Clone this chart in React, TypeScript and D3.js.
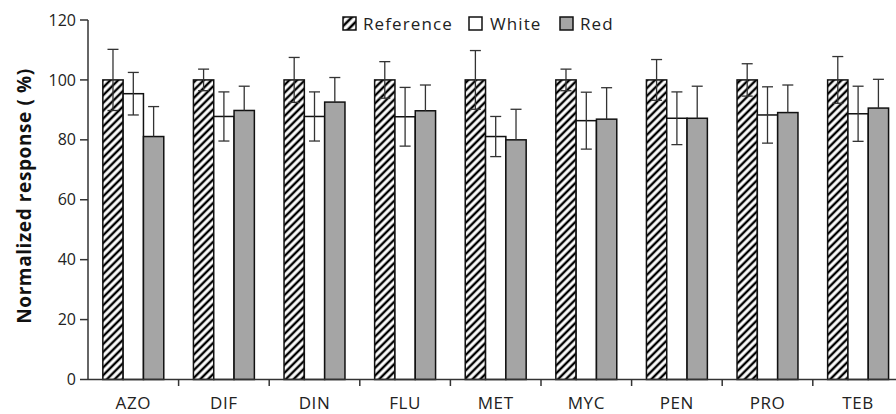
import React from "react";
import * as d3 from "d3";

const categories = ["AZO", "DIF", "DIN", "FLU", "MET", "MYC", "PEN", "PRO", "TEB"];
const seriesNames = ["Reference", "White", "Red"];
const referenceValues = [100, 100, 100, 100, 100, 100, 100, 100, 100];
const referenceErrors = [10.2, 3.6, 7.5, 6.1, 9.8, 3.6, 6.8, 5.4, 7.8];
const whiteValues = [95.4, 87.8, 87.8, 87.7, 81.1, 86.4, 87.2, 88.3, 88.7];
const whiteErrors = [7.1, 8.2, 8.2, 9.8, 6.7, 9.5, 8.8, 9.4, 9.2];
const redValues = [81.1, 89.8, 92.6, 89.7, 80.0, 86.9, 87.2, 89.1, 90.6];
const redErrors = [10.0, 8.1, 8.2, 8.6, 10.2, 10.5, 10.7, 9.2, 9.6];
const yTicks = [0, 20, 40, 60, 80, 100, 120];

const W = 896;
const H = 414;
const FONT = "'Open Sans', sans-serif";

export default function App() {
  const x0 = d3.scaleBand<string>().domain(categories).range([88, 903.4]).paddingInner(0).paddingOuter(0);
  const x1 = d3.scaleBand<string>().domain(seriesNames).range([0, x0.bandwidth()]).paddingInner(0).paddingOuter(0.73);
  const y = d3.scaleLinear().domain([0, 120]).range([379.5, 20]);

  const seriesData = [
    { name: "Reference", values: referenceValues, errors: referenceErrors, fill: "url(#hatch)", lower: true },
    { name: "White", values: whiteValues, errors: whiteErrors, fill: "#ffffff", lower: true },
    { name: "Red", values: redValues, errors: redErrors, fill: "#a5a5a5", lower: false },
  ];

  const bw = x1.bandwidth();
  const cap = 5.5;
  const boundaries = categories.slice(1).map((c) => x0(c) as number);

  const legendItems = [
    { name: "Reference", fill: "url(#hatchL)", bx: 343, tx: 363 },
    { name: "White", fill: "#ffffff", bx: 469, tx: 490 },
    { name: "Red", fill: "#a5a5a5", bx: 560, tx: 580 },
  ];

  return (
    <svg width={W} height={H} style={{ position: "absolute", left: 0, top: 0, background: "#fff" }}>
      <defs>
        <pattern id="hatch" patternUnits="userSpaceOnUse" width={5.5} height={5.5} patternTransform="rotate(45)">
          <rect width={5.5} height={5.5} fill="#fff" />
          <line x1={2.75} y1={0} x2={2.75} y2={5.5} stroke="#000" strokeWidth={2.4} />
        </pattern>
        <pattern id="hatchL" patternUnits="userSpaceOnUse" width={6} height={6} patternTransform="rotate(45)">
          <rect width={6} height={6} fill="#fff" />
          <line x1={3} y1={0} x2={3} y2={6} stroke="#000" strokeWidth={2.6} />
        </pattern>
      </defs>
      <rect width={W} height={H} fill="#fff" />

      {/* bars */}
      {seriesData.map((s) => (
        <g key={s.name}>
          {categories.map((c, i) => {
            const bx = (x0(c) as number) + (x1(s.name) as number);
            return (
              <rect
                key={c}
                x={bx}
                y={y(s.values[i])}
                width={bw}
                height={y(0) - y(s.values[i])}
                fill={s.fill}
                stroke="#111"
                strokeWidth={1.5}
              />
            );
          })}
        </g>
      ))}

      {/* error bars */}
      {seriesData.map((s) => (
        <g key={s.name + "-err"} stroke="#333" strokeWidth={1.3}>
          {categories.map((c, i) => {
            const cx = (x0(c) as number) + (x1(s.name) as number) + bw / 2;
            const top = y(s.values[i] + s.errors[i]);
            const bot = s.lower ? y(s.values[i] - s.errors[i]) : y(s.values[i]);
            return (
              <g key={c}>
                <line x1={cx} x2={cx} y1={top} y2={bot} />
                <line x1={cx - cap} x2={cx + cap} y1={top} y2={top} />
                {s.lower && <line x1={cx - cap} x2={cx + cap} y1={bot} y2={bot} />}
              </g>
            );
          })}
        </g>
      ))}

      {/* y axis */}
      <line x1={88} x2={88} y1={y(120)} y2={y(0)} stroke="#333" strokeWidth={1.5} />
      {yTicks.map((t) => (
        <g key={t}>
          <line x1={80} x2={88} y1={y(t)} y2={y(t)} stroke="#333" strokeWidth={1.5} />
          <text x={76} y={y(t)} dy="0.35em" textAnchor="end" fontFamily={FONT} fontSize={16} fill="#222">
            {t}
          </text>
        </g>
      ))}

      {/* x axis */}
      <line x1={88} x2={903.4} y1={y(0)} y2={y(0)} stroke="#333" strokeWidth={1.5} />
      {boundaries.map((b, i) => (
        <line key={i} x1={b} x2={b} y1={y(0)} y2={y(0) + 6.5} stroke="#333" strokeWidth={1.5} />
      ))}
      {categories.map((c) => (
        <text
          key={c}
          x={(x0(c) as number) + x0.bandwidth() / 2}
          y={409}
          textAnchor="middle"
          fontFamily={FONT}
          fontSize={17}
          letterSpacing={0.6}
          fill="#222"
        >
          {c}
        </text>
      ))}

      {/* y title */}
      <text
        transform={`translate(31,196) rotate(-90)`}
        textAnchor="middle"
        fontFamily={FONT}
        fontSize={19}
        fontWeight="bold"
        letterSpacing={0.6}
        fill="#111"
      >
        Normalized response ( %)
      </text>

      {/* legend */}
      {legendItems.map((l) => (
        <g key={l.name}>
          <rect x={l.bx} y={17} width={13} height={13} fill={l.fill} stroke="#111" strokeWidth={1.5} />
          <text x={l.tx} y={30} fontFamily={FONT} fontSize={17} letterSpacing={1.1} fill="#222">
            {l.name}
          </text>
        </g>
      ))}
    </svg>
  );
}
